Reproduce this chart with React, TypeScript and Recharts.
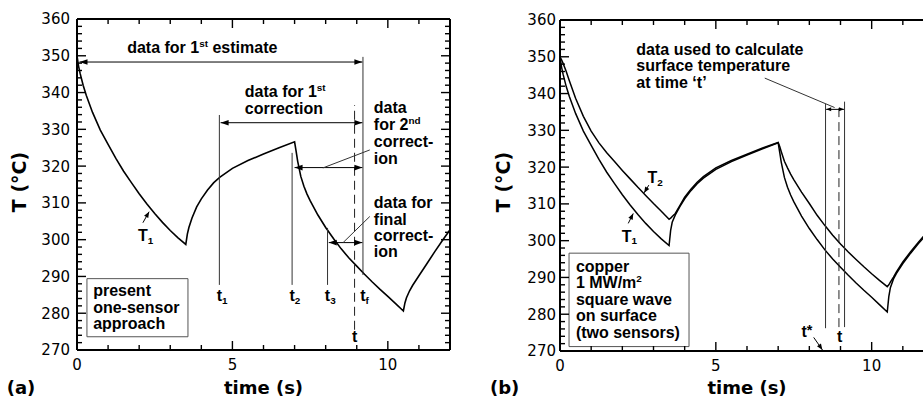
import React from 'react';
import { LineChart, Line, XAxis, YAxis, ReferenceLine, ReferenceDot, ReferenceArea } from 'recharts';

// ---------- data (time in s, temperature in °C) ----------
const times = [0, 0.05, 0.1, 0.2, 0.3, 0.5, 0.75, 1.0, 1.25, 1.5, 1.75, 2.0, 2.25, 2.5, 2.75, 3.0, 3.25, 3.5, 3.55, 3.6, 3.7, 3.85, 4.0, 4.2, 4.4, 4.6, 5.0, 5.5, 6.0, 6.5, 7.0, 7.05, 7.1, 7.2, 7.3, 7.4, 7.5, 7.75, 8.0, 8.25, 8.5, 8.75, 9.0, 9.25, 9.5, 9.75, 10.0, 10.25, 10.5, 10.55, 10.6, 10.7, 10.8, 11.0, 11.25, 11.5, 11.75, 12.0];

// panel (a): T1, present one-sensor approach
const t1OneSensor = [350, 347.2, 345.2, 341.9, 339.2, 334.6, 329.8, 325.9, 322.1, 318.6, 315.5, 312.5, 309.7, 307.1, 304.7, 302.5, 300.5, 298.7, 301.5, 303.3, 305.9, 308.9, 311.1, 313.5, 315.5, 317.0, 319.4, 321.5, 323.3, 325.0, 326.6, 324.0, 321.3, 317.2, 314.5, 312.4, 310.6, 306.7, 303.3, 300.3, 297.5, 295.0, 292.8, 290.6, 288.5, 286.5, 284.6, 282.6, 280.6, 282.8, 284.2, 286.1, 287.6, 290.2, 293.4, 296.6, 299.7, 302.7];

// panel (b): T1 and T2, two sensors
const t1TwoSensor = [350, 347.2, 345.2, 341.9, 339.2, 334.6, 329.8, 325.9, 322.1, 318.6, 315.5, 312.5, 309.7, 307.1, 304.7, 302.5, 300.5, 298.7, 302.8, 305.0, 307.0, 309.3, 311.4, 313.6, 315.5, 317.0, 319.4, 321.5, 323.3, 325.0, 326.6, 324.0, 321.3, 317.2, 314.5, 312.4, 310.6, 306.7, 303.3, 300.3, 297.5, 295.0, 292.8, 290.6, 288.5, 286.5, 284.6, 282.6, 280.6, 284.8, 287.2, 289.6, 291.2, 293.8, 296.6, 299.2, 301.6, 303.8];
const t2TwoSensor = [350, 349.2, 348.2, 346.0, 343.5, 338.7, 333.8, 329.8, 326.6, 323.9, 321.5, 319.1, 316.8, 314.5, 312.3, 310.1, 308.0, 305.8, 306.1, 306.6, 307.4, 309.6, 311.8, 314.0, 315.9, 317.4, 319.8, 321.8, 323.5, 325.2, 326.7, 325.6, 324.2, 321.6, 319.8, 318.1, 316.6, 313.2, 310.1, 306.9, 304.1, 301.5, 299.1, 296.9, 294.9, 292.9, 291.0, 289.2, 287.5, 288.0, 288.7, 290.1, 291.6, 294.2, 297.0, 299.6, 302.0, 304.2];

const xTicks = [0, 1, 2, 3, 4, 5, 6, 7, 8, 9, 10, 11, 12];
const xLabeled = [0, 5, 10];
const yTicks = [270, 272, 274, 276, 278, 280, 282, 284, 286, 288, 290, 292, 294, 296, 298, 300, 302, 304, 306, 308, 310, 312, 314, 316, 318, 320, 322, 324, 326, 328, 330, 332, 334, 336, 338, 340, 342, 344, 346, 348, 350, 352, 354, 356, 358, 360];
const yLabeled = [270, 280, 290, 300, 310, 320, 330, 340, 350, 360];

const leftData = times.map((t, i) => ({ t, T1: t1OneSensor[i] }));
const rightData = times.map((t, i) => ({ t, T1: t1TwoSensor[i], T2: t2TwoSensor[i] }));

// ---------- annotations (data units) ----------
const aVertical = [
  { t: 9.2, lo: 290.4, hi: 349.7 },
  { t: 4.58, lo: 287.7, hi: 333.9 },
  { t: 6.92, lo: 287.7, hi: 323.6 },
  { t: 8.06, lo: 287.7, hi: 303.2 },
];
const aDashed = { t: 8.93, lo: 275.5, hi: 336.6 };
const aSpans = [
  { from: 0.08, to: 9.18, at: 348.3 },
  { from: 4.62, to: 9.18, at: 331.8 },
  { from: 7.0, to: 9.18, at: 319.6 },
  { from: 8.1, to: 9.18, at: 299.2 },
];
const aLeaders = [
  { x1: 9.42, y1: 324.4, x2: 7.91, y2: 319.5 },
  { x1: 9.42, y1: 306.3, x2: 8.56, y2: 299.2 },
];
const aPointer = { x1: 2.12, y1: 304.6, x2: 2.32, y2: 307.6 };

const bVertical = [
  { t: 8.52, lo: 276.2, hi: 337.2 },
  { t: 9.13, lo: 276.5, hi: 337.8 },
];
const bDashed = { t: 8.95, lo: 276.5, hi: 336.9 };
const bSpan = { from: 8.54, to: 9.11, at: 335.7 };
const bLeader = { x1: 6.57, y1: 344.2, x2: 8.81, y2: 336.2 };
const bPointers = [
  { x1: 8.14, y1: 273.7, x2: 8.42, y2: 270.3 },
  { x1: 2.85, y1: 315.1, x2: 2.70, y2: 313.0 },
  { x1: 2.19, y1: 304.7, x2: 2.35, y2: 307.4 },
];

// ---------- styling ----------
const TICK_FONT = "'DejaVu Sans', sans-serif";
const ANN_FONT = "'Liberation Sans', Arial, Helvetica, sans-serif";
const MAJOR = 9;
const MINOR = 5;

type Seg = { s: string; k?: 'sup' | 'sub' | 'star' };

function RichText({ x, y, segs, anchor = 'start', size = 16 }: { x: number; y: number; segs: Seg[]; anchor?: string; size?: number }) {
  let shift = 0;
  const parts = segs.map((sg, i) => {
    const target = sg.k === 'sup' ? -0.38 * size : sg.k === 'sub' ? 0.16 * size : sg.k === 'star' ? -0.12 * size : 0;
    const dy = target - shift;
    shift = target;
    const fs = sg.k === 'star' ? size * 0.9 : sg.k ? size * 0.62 : size;
    return (
      <tspan key={i} dy={dy} fontSize={fs}>
        {sg.s}
      </tspan>
    );
  });
  return (
    <text x={x} y={y} textAnchor={anchor as any} fontFamily={ANN_FONT} fontWeight="bold" fontSize={size} fill="#000">
      {parts}
    </text>
  );
}

const txt = (key: string, t: number, v: number, lines: Seg[][], opts: { anchor?: string; dx?: number; lh?: number; size?: number } = {}) => (
  <ReferenceDot
    key={key}
    x={t}
    y={v}
    r={0}
    ifOverflow="visible"
    shape={(p: any) => (
      <g>
        {lines.map((segs, i) => (
          <RichText key={i} x={p.cx + (opts.dx || 0)} y={p.cy + i * (opts.lh || 16.5)} segs={segs} anchor={opts.anchor} size={opts.size} />
        ))}
      </g>
    )}
  />
);

const arrowShape = (startHead: boolean, endHead: boolean, L = 8, W = 2.8, color = '#000', dash?: string, sw = 1) => (p: any) => {
  const { x1, y1, x2, y2 } = p;
  const dx = x2 - x1;
  const dy = y2 - y1;
  const len = Math.hypot(dx, dy) || 1;
  const ux = dx / len;
  const uy = dy / len;
  const head = (tx: number, ty: number, ax: number, ay: number) =>
    `${tx},${ty} ${tx - ax * L - ay * W},${ty - ay * L + ax * W} ${tx - ax * L + ay * W},${ty - ay * L - ax * W}`;
  return (
    <g>
      <line x1={x1} y1={y1} x2={x2} y2={y2} stroke={color} strokeWidth={sw} strokeDasharray={dash} />
      {endHead && <polygon points={head(x2, y2, ux, uy)} fill="#000" />}
      {startHead && <polygon points={head(x1, y1, -ux, -uy)} fill="#000" />}
    </g>
  );
};

const seg = (key: string, x1: number, y1: number, x2: number, y2: number, shape: any) => (
  <ReferenceLine key={key} segment={[{ x: x1, y: y1 }, { x: x2, y: y2 }]} ifOverflow="visible" shape={shape} />
);

// ---------- ticks ----------
const bottomTick = (p: any) => {
  const { x, y, payload } = p;
  const v = payload.value;
  const major = xLabeled.includes(v);
  return (
    <g>
      <line x1={x} y1={y} x2={x} y2={y - (major ? MAJOR : MINOR)} stroke="#000" strokeWidth={1.4} />
      {major && (
        <text x={x} y={y + 20} textAnchor="middle" fontFamily={TICK_FONT} fontSize={15} fill="#000">
          {v}
        </text>
      )}
    </g>
  );
};
const topTick = (p: any) => {
  const { x, y, payload } = p;
  const major = xLabeled.includes(payload.value);
  return <line x1={x} y1={y} x2={x} y2={y + (major ? MAJOR : MINOR)} stroke="#000" strokeWidth={1.4} />;
};
const leftTick = (gap: number) => (p: any) => {
  const { x, y, payload } = p;
  const v = payload.value;
  const major = yLabeled.includes(v);
  return (
    <g>
      <line x1={x} y1={y} x2={x + (major ? MAJOR : MINOR)} y2={y} stroke="#000" strokeWidth={1.4} />
      {major && (
        <text x={x - gap} y={y} dy="0.36em" textAnchor="end" fontFamily={TICK_FONT} fontSize={15} fill="#000">
          {v}
        </text>
      )}
    </g>
  );
};
const rightTick = (p: any) => {
  const { x, y, payload } = p;
  const major = yLabeled.includes(payload.value);
  return <line x1={x} y1={y} x2={x - (major ? MAJOR : MINOR)} y2={y} stroke="#000" strokeWidth={1.4} />;
};

const axisLine = { stroke: '#000', strokeWidth: 2 };

const axes = (gap: number) => [
  <XAxis key="xb" dataKey="t" type="number" domain={[0, 12]} ticks={xTicks} interval={0} allowDataOverflow height={30} tickSize={0} tickMargin={0} tickLine={false} axisLine={axisLine} tick={bottomTick} />,
  <XAxis key="xt" xAxisId="top" orientation="top" dataKey="t" type="number" domain={[0, 12]} ticks={xTicks} interval={0} allowDataOverflow height={1} tickSize={0} tickMargin={0} tickLine={false} axisLine={axisLine} tick={topTick} />,
  <YAxis key="yl" type="number" domain={[270, 360]} ticks={yTicks} interval={0} allowDataOverflow width={40} tickSize={0} tickMargin={0} tickLine={false} axisLine={axisLine} tick={leftTick(gap)} />,
  <YAxis key="yr" yAxisId="right" orientation="right" type="number" domain={[270, 360]} ticks={yTicks} interval={0} allowDataOverflow width={1} tickSize={0} tickMargin={0} tickLine={false} axisLine={axisLine} tick={rightTick} />,
];

const thin = arrowShape(false, false, 8, 2.8, '#333');
const dashed = arrowShape(false, false, 8, 2.8, '#222', '9 5');

export default function App() {
  return (
    <div style={{ position: 'absolute', left: 0, top: 0, width: 923, height: 401, overflow: 'hidden', background: '#fff' }}>
      <div style={{ position: 'absolute', left: 0, top: 0 }}>
        <LineChart width={460} height={401} data={leftData} margin={{ top: 18, right: 9, bottom: 21, left: 37 }}>
          {axes(7)}
          <ReferenceArea x1={0.32} x2={3.57} y1={273.6} y2={289.4} fill="#fff" fillOpacity={1} stroke="#555" strokeWidth={1} ifOverflow="visible" />
          <Line dataKey="T1" type="linear" dot={false} stroke="#000" strokeWidth={1.6} isAnimationActive={false} />
          {aVertical.map((v, i) => seg(`av${i}`, v.t, v.lo, v.t, v.hi, thin))}
          {seg('ad', aDashed.t, aDashed.lo, aDashed.t, aDashed.hi, dashed)}
          {aSpans.map((s, i) => seg(`as${i}`, s.from, s.at, s.to, s.at, arrowShape(true, true)))}
          {aLeaders.map((l, i) => seg(`al${i}`, l.x1, l.y1, l.x2, l.y2, thin))}
          {seg('ap', aPointer.x1, aPointer.y1, aPointer.x2, aPointer.y2, arrowShape(false, true, 6, 2.4))}
          {txt('a1', 4.03, 350.8, [[{ s: 'data for 1' }, { s: 'st', k: 'sup' }, { s: ' estimate' }]], { anchor: 'middle' })}
          {txt('a2', 5.4, 338.7, [[{ s: 'data for 1' }, { s: 'st', k: 'sup' }], [{ s: 'correction' }]])}
          {txt('a3', 9.55, 334.5, [[{ s: 'data' }], [{ s: 'for 2' }, { s: 'nd', k: 'sup' }], [{ s: 'correct-' }], [{ s: 'ion' }]], { lh: 17 })}
          {txt('a4', 9.55, 308.5, [[{ s: 'data for' }], [{ s: 'final' }], [{ s: 'correct-' }], [{ s: 'ion' }]], { lh: 16.3 })}
          {txt('at1', 4.58, 283.2, [[{ s: 't' }, { s: '1', k: 'sub' }]], { dx: -2.7 })}
          {txt('at2', 6.92, 283.2, [[{ s: 't' }, { s: '2', k: 'sub' }]], { dx: -2.7 })}
          {txt('at3', 8.06, 283.2, [[{ s: 't' }, { s: '3', k: 'sub' }]], { dx: -2.7 })}
          {txt('atf', 9.2, 283.2, [[{ s: 't' }, { s: 'f', k: 'sub' }]], { dx: -2.7 })}
          {txt('att', 8.93, 272.3, [[{ s: 't' }]], { anchor: 'middle' })}
          {txt('aT1', 1.96, 299.6, [[{ s: 'T' }, { s: '1', k: 'sub' }]])}
          {txt('abox', 0.52, 284.6, [[{ s: 'present' }], [{ s: 'one-sensor' }], [{ s: 'approach' }]], { lh: 16.5 })}
        </LineChart>
      </div>
      <div style={{ position: 'absolute', left: 460, top: 0 }}>
        <LineChart width={484} height={401} data={rightData} margin={{ top: 19, right: 9, bottom: 20, left: 60 }}>
          {axes(4)}
          <ReferenceArea x1={0.29} x2={4.14} y1={271.2} y2={296.6} fill="#fff" fillOpacity={1} stroke="#555" strokeWidth={1} ifOverflow="visible" />
          <Line dataKey="T2" type="linear" dot={false} stroke="#000" strokeWidth={1.5} isAnimationActive={false} />
          <Line dataKey="T1" type="linear" dot={false} stroke="#000" strokeWidth={1.5} isAnimationActive={false} />
          {bVertical.map((v, i) => seg(`bv${i}`, v.t, v.lo, v.t, v.hi, thin))}
          {seg('bd', bDashed.t, bDashed.lo, bDashed.t, bDashed.hi, dashed)}
          {seg('bs', bSpan.from, bSpan.at, bSpan.to, bSpan.at, arrowShape(true, true, 5, 2))}
          {seg('bl', bLeader.x1, bLeader.y1, bLeader.x2, bLeader.y2, thin)}
          {bPointers.map((l, i) => seg(`bp${i}`, l.x1, l.y1, l.x2, l.y2, arrowShape(false, true, 6, 2.4)))}
          {txt('b1', 2.45, 350.5, [[{ s: 'data used to calculate' }], [{ s: 'surface temperature' }], [{ s: 'at time \u2018t\u2019' }]], { lh: 16.3 })}
          {txt('bts', 7.75, 273.9, [[{ s: 't' }, { s: '*', k: 'star' }]])}
          {txt('btt', 8.97, 272.5, [[{ s: 't' }]], { anchor: 'middle' })}
          {txt('bT2', 2.81, 315.6, [[{ s: 'T' }, { s: '2', k: 'sub' }]])}
          {txt('bT1', 1.98, 299.7, [[{ s: 'T' }, { s: '1', k: 'sub' }]])}
          {txt('bbox', 0.51, 291.6, [[{ s: 'copper' }], [{ s: '1 MW/m' }, { s: '2', k: 'sup' }], [{ s: 'square wave' }], [{ s: 'on surface' }], [{ s: '(two sensors)' }]], { lh: 16.5 })}
        </LineChart>
      </div>
      <svg width={923} height={401} style={{ position: 'absolute', left: 0, top: 0, pointerEvents: 'none' }}>
        <g fontFamily={TICK_FONT} fontWeight="bold" fill="#000">
          <text x={6.7} y={394} fontSize={18}>(a)</text>
          <text x={263.5} y={394} fontSize={18} textAnchor="middle">time (s)</text>
          <text x={0} y={0} fontSize={19} textAnchor="middle" dominantBaseline="central" transform="translate(18.5,182) rotate(-90)">T (°C)</text>
          <text x={490} y={394} fontSize={18}>(b)</text>
          <text x={747} y={394} fontSize={18} textAnchor="middle">time (s)</text>
          <text x={0} y={0} fontSize={19} textAnchor="middle" dominantBaseline="central" transform="translate(503,182) rotate(-90)">T (°C)</text>
        </g>
      </svg>
    </div>
  );
}
